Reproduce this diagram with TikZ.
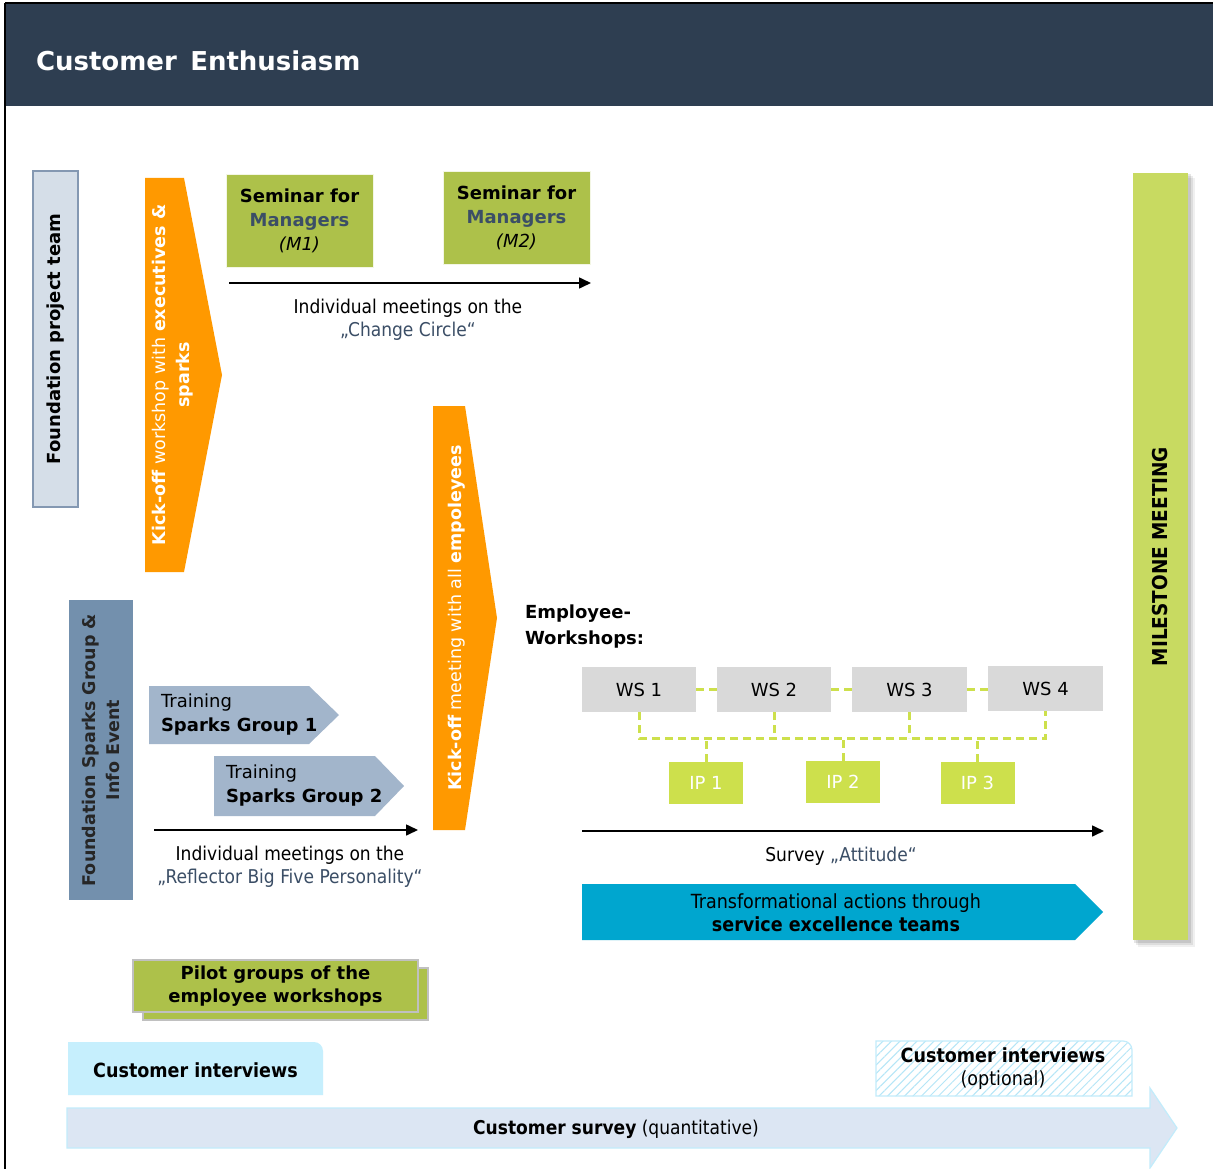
\documentclass[tikz,border=0pt]{standalone}
\usepackage{fontspec}
\setmainfont{DejaVu Sans}
\newfontfamily\condfont{DejaVu Sans Condensed}
\usetikzlibrary{shadows,patterns.meta,arrows.meta}
\definecolor{headerblue}{HTML}{2E3E51}
\definecolor{teamfill}{HTML}{D5DEE8}
\definecolor{teamline}{HTML}{8498B2}
\definecolor{kickorange}{HTML}{FF9900}
\definecolor{olive}{HTML}{ADC14A}
\definecolor{slate}{HTML}{3B4E66}
\definecolor{wsgrey}{HTML}{D9D9D9}
\definecolor{lime}{HTML}{CDE04C}
\definecolor{teal}{HTML}{00A6CF}
\definecolor{milestone}{HTML}{C8DA61}
\definecolor{sparksblue}{HTML}{7390AD}
\definecolor{trainblue}{HTML}{A2B5CB}
\definecolor{pilotline}{HTML}{C0C0C0}
\definecolor{custcyan}{HTML}{C6EFFD}
\definecolor{hatchcyan}{HTML}{B5E6F7}
\definecolor{surveyfill}{HTML}{DCE6F3}
\definecolor{surveyline}{HTML}{C2ECFB}
\newcommand{\fsz}[2]{\fontsize{#1}{#2}\selectfont}
\begin{document}
\begin{tikzpicture}[x=1pt,y=-1pt,
  box/.style={inner sep=0pt,outer sep=0pt,align=center},
  label/.style={inner sep=0pt,align=center,font=\condfont\fsz{19}{23}},
  timeline/.style={line width=1.6pt,-{Triangle[length=12pt,width=11pt]}},
  wsbox/.style={box,fill=wsgrey,minimum width=114pt,minimum height=45pt,font=\fsz{18}{22}},
  ipbox/.style={box,fill=lime,minimum width=74pt,minimum height=42pt,font=\fsz{18}{22},text=white},
  link/.style={draw=lime,line width=3pt,dash pattern=on 8pt off 5pt},
  seminar/.style={box,fill=olive,draw=white!85!olive,line width=0.8pt,minimum width=147pt,minimum height=93pt,font=\fsz{18}{24}},
]
\useasboundingbox (0,0) rectangle (1213,1169);
\fill[white] (0,0) rectangle (1213,1169);

% title bar and frame
\fill[headerblue] (5,3) rectangle (1213,106);
\draw[line width=2pt] (5,3) -- (1213,3);
\draw[line width=2pt] (5,3) -- (5,1169);
\node[box,anchor=west,text=white,font=\bfseries\fsz{26}{32}] (title) at (36,61) {Customer\ \,Enthusiasm};

% project team
\node[box,fill=teamfill,draw=teamline,line width=1.5pt,minimum width=45pt,minimum height=336pt] (team) at (55.5,339) {};
\node[box,rotate=90,font=\bfseries\fsz{18}{22}] (teamtxt) at (team.center) {Foundation project team};

% kick-off workshop chevron
\fill[kickorange] (145,178) -- (184,178) -- (222,375) -- (184,572) -- (145,572) -- cycle;
\node[box,rotate=90,text=white,font=\fsz{17.5}{24}] (kick1) at (173,375)
  {\textbf{Kick-off} workshop with \textbf{executives \&}\\\textbf{sparks}};

% seminars
\node[seminar] (m1) at (299.5,221) {\textbf{Seminar for}\\\textcolor{slate}{\textbf{Managers}}\\\textit{(M1)}};
\node[seminar] (m2) at (516.5,217.5) {\textbf{Seminar for}\\\textcolor{slate}{\textbf{Managers}}\\\textit{(M2)}};

\coordinate (cc0) at (229,283);
\coordinate (cc1) at (591,283);
\draw[timeline] (cc0) -- (cc1);
\node[label] (cctxt) at (408,320) {Individual meetings on the\\\textcolor{slate}{„Change Circle“}};

% kick-off meeting chevron
\fill[kickorange] (433,406) -- (465,406) -- (497,618) -- (465,830) -- (433,830) -- cycle;
\node[box,rotate=90,text=white,font=\fsz{17.5}{22}] (kick2) at (457,618)
  {\textbf{Kick-off} meeting with all \textbf{empoleyees}};

% employee workshops
\node[box,anchor=north west,align=left,font=\bfseries\fsz{18}{26}] (ewtxt) at (525,605) {Employee-\\Workshops:};

\node[wsbox] (ws1) at (639,689.5) {WS 1};
\node[wsbox] (ws2) at (774,689.5) {WS 2};
\node[wsbox,minimum width=115pt] (ws3) at (909.5,689.5) {WS 3};
\node[wsbox,minimum width=115pt] (ws4) at (1045.5,688.5) {WS 4};

\node[ipbox] (ip1) at (706,783) {IP 1};
\node[ipbox] (ip2) at (843,781.5) {IP 2};
\node[ipbox] (ip3) at (977.5,782.5) {IP 3};

\coordinate (bus) at (0,738);
\draw[link] (ws1.east) -- (ws2.west);
\draw[link] (ws2.east) -- (ws3.west);
\draw[link] (ws3.east) -- (ws4.west |- ws3.east);
\draw[link] (ws1.south) -- (ws1.south |- bus) -- (ws4.south |- bus) -- (ws4.south);
\draw[link] (ws2.south) -- (ws2.south |- bus);
\draw[link] (ws3.south) -- (ws3.south |- bus);
\draw[link] (ip1.north) -- (ip1.north |- bus);
\draw[link] (ip2.north) -- (ip2.north |- bus);
\draw[link] (ip3.north) -- (ip3.north |- bus);

\coordinate (sa0) at (582,831);
\coordinate (sa1) at (1104,831);
\draw[timeline] (sa0) -- (sa1);
\node[label] (satxt) at (841,856) {Survey \textcolor{slate}{„Attitude“}};

% transformational actions
\fill[teal] (582,884) -- (1075,884) -- (1103,912) -- (1075,940) -- (582,940) -- cycle;
\node[label,font=\condfont\fsz{19.5}{23}] (trtxt) at (836,913) {Transformational actions through\\\textbf{service excellence teams}};

% milestone, with a soft shadow
\foreach \s/\o in {7/0.06,5/0.08,3/0.1}
  \fill[black,opacity=\o] (1133+\s-2,173+\s-2) rectangle (1188+\s,940+\s);
\node[box,fill=milestone,minimum width=55pt,minimum height=767pt] (mile) at (1160.5,556.5) {};
\node[box,rotate=90,font=\condfont\bfseries\fsz{20.5}{24}] (miletxt) at (mile.center) {MILESTONE MEETING};

% sparks group
\node[box,fill=sparksblue,minimum width=64pt,minimum height=300pt] (sparks) at (101,750) {};
\node[box,rotate=90,text=black!85,font=\bfseries\fsz{17.5}{24}] (sparkstxt) at (sparks.center) {Foundation Sparks Group \&\\Info Event};

% trainings
\fill[trainblue] (149,686) -- (309,686) -- (339,715) -- (309,744) -- (149,744) -- cycle;
\node[box,anchor=west,align=left,font=\fsz{18}{24}] (tr1) at (161,715) {Training\\\textbf{Sparks Group 1}};
\fill[trainblue] (214,756) -- (375,756) -- (404,786) -- (375,816) -- (214,816) -- cycle;
\node[box,anchor=west,align=left,font=\fsz{18}{24}] (tr2) at (226,786) {Training\\\textbf{Sparks Group 2}};

\coordinate (rf0) at (154,830);
\coordinate (rf1) at (418,830);
\draw[timeline] (rf0) -- (rf1);
\node[label] (rftxt) at (290,867) {Individual meetings on the\\\textcolor{slate}{„Reflector Big Five Personality“}};

% pilot groups
\node[box,fill=olive,draw=pilotline,line width=1.5pt,minimum width=285pt,minimum height=52pt] (pilotback) at (285.5,994) {};
\node[box,fill=olive,draw=pilotline,line width=1.5pt,minimum width=285pt,minimum height=52pt,font=\bfseries\fsz{18}{23}] (pilot) at (275.5,986) {Pilot groups of the\\employee workshops};

% customer interviews
\fill[custcyan] (68,1095) -- (68,1042) [rounded corners=9pt] -- (323,1042) [sharp corners] -- (323,1095) -- cycle;
\node[box,font=\condfont\bfseries\fsz{19.5}{23}] (ci1) at (195.5,1070) {Customer interviews};

\path[pattern={Lines[angle=45,distance=6pt,line width=1pt]},pattern color=hatchcyan]
  (876,1096) -- (876,1041) [rounded corners=9pt] -- (1132,1041) [sharp corners] -- (1132,1096) -- cycle;
\draw[surveyline,line width=1.2pt] (876,1096) -- (876,1041) [rounded corners=9pt] -- (1132,1041) [sharp corners] -- (1132,1096) -- cycle;
\node[box,font=\condfont\fsz{19.5}{23}] (ci2) at (1003,1069) {\textbf{Customer interviews}\\(optional)};

% customer survey arrow
\filldraw[fill=surveyfill,draw=surveyline,line width=1.2pt]
  (67,1108) -- (1150,1108) -- (1150,1088) -- (1177,1128) -- (1150,1168) -- (1150,1148) -- (67,1148) -- cycle;
\node[box,font=\condfont\fsz{19}{22}] (cs) at (616,1129) {\textbf{Customer survey} (quantitative)};
\end{tikzpicture}
\end{document}
